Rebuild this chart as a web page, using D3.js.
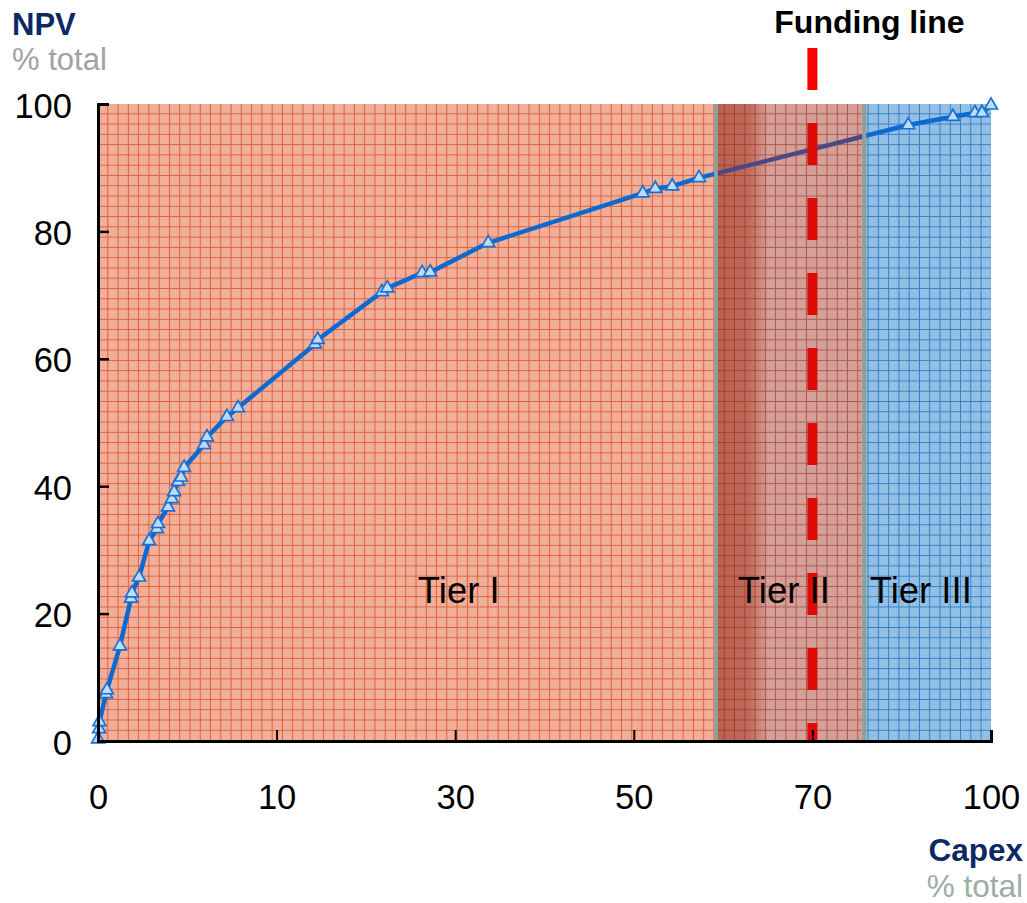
<!DOCTYPE html>
<html>
<head>
<meta charset="utf-8">
<script src="https://cdn.jsdelivr.net/npm/d3@7"></script>
<style>
  html, body { margin: 0; padding: 0; background: #fff; }
  svg { display: block; font-family: "Liberation Sans", Arial, sans-serif; }
</style>
</head>
<body>
<svg id="chart" width="1027" height="903"></svg>
<script>
// Cumulative capex (% of total) for each project, in ranked order
const capex = [0, 0.06, 0.08, 0.45, 0.5, 1.23, 1.85, 1.9, 2.3, 2.86, 3.3, 3.36, 3.92, 4.14, 4.26, 4.48, 4.65, 4.82,
  5.94, 6.1, 7.22, 7.84, 14.3, 14.6, 21.8, 22.4, 26.3, 27.2, 33.7, 51.0, 52.4, 54.3, 57.3, 86.1, 93.6, 97.3, 98.5, 100];
// Cumulative NPV (% of total) at each project
const npv = [0.3, 1.9, 3.0, 7.4, 8.0, 14.9, 22.4, 23.2, 25.7, 31.4, 33.3, 34.1, 36.7, 38.0, 39.1, 40.7, 41.4, 42.9,
  46.5, 47.7, 50.9, 52.3, 62.3, 63.0, 70.5, 71.1, 73.5, 73.6, 78.2, 86.0, 86.7, 87.1, 88.4, 96.7, 98.0, 98.6, 98.6, 99.8];

const xTickValues = [0, 10, 30, 50, 70, 100];
const yTickValues = [0, 20, 40, 60, 80, 100];

// Tier boundaries on the capex axis
const tierNames = ["Tier I", "Tier II", "Tier III"];
const tierBounds = [0, 59.2, 78.7, 100];
const tierLabelAt = [30.4, 66.8, 88.2];
const tierIIShadeEnd = 65.0;
const fundingLine = 70;

const svg = d3.select("#chart");
const plotLeft = 98, plotRight = 991, plotTop = 104, plotBottom = 741;

// Evenly spaced, piecewise-linear capex axis
const x = d3.scaleLinear()
  .domain(xTickValues)
  .range(xTickValues.map((d, i) => plotLeft + i * (plotRight - plotLeft) / (xTickValues.length - 1)));
const y = d3.scaleLinear().domain([0, 100]).range([plotBottom, plotTop]);

const defs = svg.append("defs");
const cell = (plotBottom - plotTop) / 62;

function checker(id, a, b) {
  const p = defs.append("pattern").attr("id", id).attr("patternUnits", "userSpaceOnUse")
    .attr("width", 2).attr("height", 2);
  p.append("rect").attr("width", 2).attr("height", 2).attr("fill", a);
  p.append("rect").attr("width", 1).attr("height", 1).attr("fill", b);
  p.append("rect").attr("x", 1).attr("y", 1).attr("width", 1).attr("height", 1).attr("fill", b);
}
function grid(id, color) {
  const p = defs.append("pattern").attr("id", id).attr("patternUnits", "userSpaceOnUse")
    .attr("x", plotLeft).attr("y", plotTop).attr("width", cell).attr("height", cell);
  p.append("path").attr("d", `M${cell - 0.5},0V${cell}M0,${cell - 0.5}H${cell}`)
    .attr("stroke", color).attr("stroke-width", 1).attr("fill", "none");
}
checker("chk1", "#efa993", "#f3b4a0");
grid("grd1", "#dd603c");
checker("chk3", "#8dbce2", "#99c4e7");
grid("grd3", "#3280c7");
checker("chk2", "#eef6f1", "#f4faf6");
grid("grd2", "#a8857d");

const shade = defs.append("linearGradient").attr("id", "shade2");
shade.append("stop").attr("offset", "0%").attr("stop-color", "#96280a").attr("stop-opacity", 0.5);
shade.append("stop").attr("offset", "65%").attr("stop-color", "#96280a").attr("stop-opacity", 0.42);
shade.append("stop").attr("offset", "100%").attr("stop-color", "#96280a").attr("stop-opacity", 0.0);

function band(x0, x1, fill) {
  return svg.append("rect")
    .attr("x", x(x0)).attr("y", y(100))
    .attr("width", x(x1) - x(x0)).attr("height", y(0) - y(100))
    .attr("fill", fill);
}

// Tier backgrounds
band(tierBounds[0], tierBounds[1], "url(#chk1)");
band(tierBounds[0], tierBounds[1], "url(#grd1)");
band(tierBounds[2], tierBounds[3], "url(#chk3)");
band(tierBounds[2], tierBounds[3], "url(#grd3)");
band(tierBounds[1], tierBounds[2], "url(#chk2)");
band(tierBounds[1], tierBounds[2], "url(#grd2)");
band(tierBounds[1], tierIIShadeEnd, "url(#shade2)");

// Cumulative NPV curve
const pts = capex.map((c, i) => [c, npv[i]]);
svg.append("path")
  .datum(pts)
  .attr("fill", "none")
  .attr("stroke", "#0a6ad2")
  .attr("stroke-width", 4.5)
  .attr("stroke-linejoin", "round")
  .attr("d", d3.line().x(d => x(d[0])).y(d => y(d[1])));

svg.append("g").selectAll("path")
  .data(pts)
  .join("path")
  .attr("transform", d => `translate(${x(d[0])},${y(d[1])})`)
  .attr("d", d3.symbol(d3.symbolTriangle, 72))
  .attr("fill", "#bddcf8")
  .attr("stroke", "#1b70d4")
  .attr("stroke-width", 1.7);

// Funding line
svg.append("line")
  .attr("x1", x(fundingLine)).attr("x2", x(fundingLine))
  .attr("y1", 48).attr("y2", y(0))
  .attr("stroke", "#ff0000")
  .attr("stroke-width", 10)
  .attr("stroke-dasharray", "42,33");

// Tier II tint laid over the curve and funding line
band(tierBounds[1], tierBounds[2], "rgba(172,26,13,0.4)");

// Tier separators
svg.append("g").selectAll("rect")
  .data(tierBounds.slice(1, 3))
  .join("rect")
  .attr("x", d => x(d) - 2).attr("y", y(100))
  .attr("width", 4).attr("height", y(0) - y(100))
  .attr("fill", "#8fa19b");

// Tier labels
svg.append("g").selectAll("text")
  .data(tierNames)
  .join("text")
  .attr("x", (d, i) => x(tierLabelAt[i]))
  .attr("y", 603)
  .attr("text-anchor", "middle")
  .attr("font-size", 36.5)
  .attr("fill", "#000")
  .text(d => d);

// Axes
const xAxis = d3.axisBottom(x).tickValues(xTickValues).tickSize(-11).tickPadding(0).tickFormat(d3.format("d"));
const gx = svg.append("g").attr("transform", `translate(0,${y(0)})`).call(xAxis);
gx.select(".domain").attr("stroke", "#000").attr("stroke-width", 3);
gx.selectAll(".tick line").attr("stroke", "#000").attr("stroke-width", 2);
gx.selectAll(".tick text")
  .attr("font-size", 34.5).attr("fill", "#000")
  .attr("font-family", "Liberation Sans, Arial, sans-serif")
  .attr("dy", null).attr("y", 68);

const yAxis = d3.axisLeft(y).tickValues(yTickValues).tickSize(-11).tickPadding(0);
const gy = svg.append("g").attr("transform", `translate(${x(0)},0)`).call(yAxis);
gy.select(".domain").attr("stroke", "#000").attr("stroke-width", 3);
gy.selectAll(".tick line").attr("stroke", "#000").attr("stroke-width", 2.5);
gy.selectAll(".tick text")
  .attr("font-size", 34.5).attr("fill", "#000")
  .attr("font-family", "Liberation Sans, Arial, sans-serif")
  .attr("x", -26).attr("dy", null).attr("y", 13);

// Axis titles
svg.append("text").attr("x", 12).attr("y", 35)
  .attr("font-size", 31).attr("font-weight", "bold").attr("fill", "#0b2a64").text("NPV");
svg.append("text").attr("x", 12).attr("y", 70)
  .attr("font-size", 31).attr("fill", "#a2a2a2").text("% total");
svg.append("text").attr("x", 1023).attr("y", 861).attr("text-anchor", "end")
  .attr("font-size", 31.5).attr("font-weight", "bold").attr("fill", "#0b2a64").text("Capex");
svg.append("text").attr("x", 1023).attr("y", 897).attr("text-anchor", "end")
  .attr("font-size", 31.5).attr("fill", "#9eaca7").text("% total");

// Funding line title
svg.append("text").attr("x", x(fundingLine) + 57).attr("y", 33).attr("text-anchor", "middle")
  .attr("font-size", 32).attr("font-weight", "bold").attr("fill", "#000").text("Funding line");
</script>
</body>
</html>
